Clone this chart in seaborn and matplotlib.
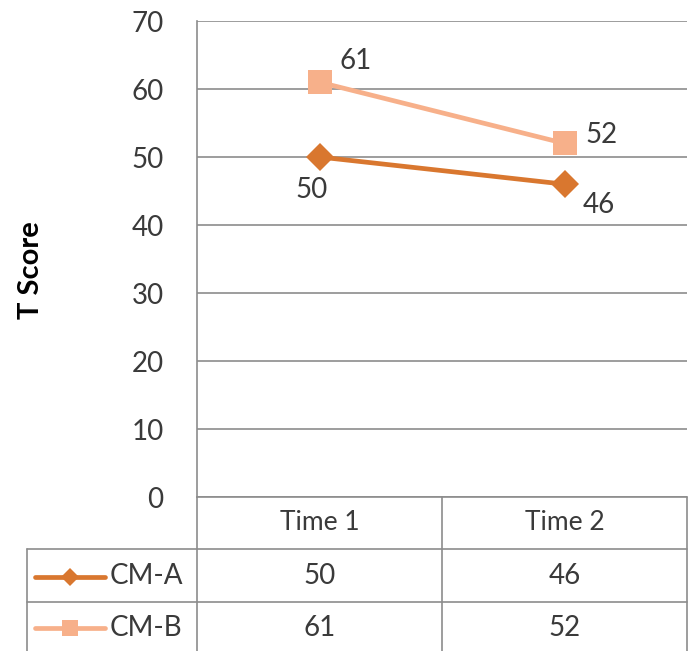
import matplotlib
matplotlib.use("Agg")
import matplotlib.pyplot as plt
import seaborn as sns
import pandas as pd

# Scores per measurement occasion
times = ["Time 1", "Time 2"]
series_names = ["CM-A", "CM-B"]
cm_a = [50, 46]
cm_b = [61, 52]
y_ticks = [0, 10, 20, 30, 40, 50, 60, 70]

colors = {"CM-A": "#D9772F", "CM-B": "#F7B08A"}
markers = {"CM-A": "D", "CM-B": "s"}
marker_sizes = {"CM-A": 14, "CM-B": 17.5}
# label offsets (points) for each series' value labels
label_offsets = {"CM-A": [(-6, -24), (25, -15)], "CM-B": [(26, 15), (27, 6)]}

df = pd.DataFrame({
    "time": times * 2,
    "score": cm_a + cm_b,
    "series": [series_names[0]] * len(times) + [series_names[1]] * len(times),
})

sns.set_style("white")
plt.rcParams["font.family"] = ["Lato", "DejaVu Sans"]

W, H = 695, 651
fig = plt.figure(figsize=(W / 100, H / 100), dpi=100)
left, right, top, bottom = 197, 687, 21, 497
ax = fig.add_axes([left / W, 1 - bottom / H, (right - left) / W, (bottom - top) / H])

grid_col = "#8C8C8C"
text_col = "#3A3A3A"
fs = 20

sns.lineplot(data=df, x="time", y="score", hue="series", style="series",
             palette=colors, markers=markers, dashes=False, linewidth=3.4,
             markeredgewidth=0, legend=False, ax=ax, zorder=3)
for line, name in zip(ax.get_lines(), series_names):
    line.set_markersize(marker_sizes[name])

ax.set_xlim(-0.5, 1.5)
ax.set_ylim(0, 70)
ax.set_yticks(y_ticks)
ax.set_yticklabels([str(v) for v in y_ticks], fontsize=fs, color=text_col)
ax.tick_params(axis="y", length=0, pad=24)
ax.set_xticks([])
ax.set_xlabel("")
ax.grid(axis="y", color=grid_col, linewidth=1.2)
for s in ["top", "right", "bottom"]:
    ax.spines[s].set_visible(False)
ax.spines["left"].set_color(grid_col)
ax.spines["left"].set_linewidth(1.2)
ax.set_ylabel("T Score", fontsize=21, fontweight="bold", color="#000000")
ax.yaxis.set_label_coords(-0.312, 0.477)

# value labels next to each point
for name, vals in zip(series_names, [cm_a, cm_b]):
    for i, v in enumerate(vals):
        dx, dy = label_offsets[name][i]
        ax.annotate(str(v), (i, v), xytext=(dx, dy), textcoords="offset points",
                    ha="center", va="center", fontsize=fs, color=text_col)

# data table beneath the plot
tr = ax.get_xaxis_transform()
px_per_unit = (right - left) / 2.0
px_h = bottom - top
def ay(py):
    return (bottom - py) / px_h
x_left_tab = -0.5 - (left - 27) / px_per_unit
rows_y = [497, 549, 602, 651]
lk = dict(color=grid_col, linewidth=1.2, clip_on=False, transform=tr)
# header row
ax.plot([-0.5, 1.5], [ay(rows_y[0])] * 2, **lk)
for xb in [-0.5, 0.5, 1.5]:
    ax.plot([xb, xb], [ay(rows_y[0]), ay(rows_y[3])], **lk)
for yb in rows_y[1:3]:
    ax.plot([x_left_tab, 1.5], [ay(yb)] * 2, **lk)
ax.plot([x_left_tab, x_left_tab], [ay(rows_y[1]), ay(rows_y[3])], **lk)

for i, t in enumerate(times):
    ax.text(i, ay((rows_y[0] + rows_y[1]) / 2), t, transform=tr, ha="center",
            va="center", fontsize=19, color=text_col, clip_on=False)

for r, (name, vals) in enumerate(zip(series_names, [cm_a, cm_b])):
    yc = ay((rows_y[r + 1] + rows_y[r + 2]) / 2 + 1)
    for i, v in enumerate(vals):
        ax.text(i, yc, str(v), transform=tr, ha="center", va="center",
                fontsize=fs, color=text_col, clip_on=False)
    # legend key
    kx0 = -0.5 - (197 - 35) / px_per_unit
    kx1 = -0.5 - (197 - 105) / px_per_unit
    ax.plot([kx0, kx1], [yc, yc], color=colors[name], linewidth=3.4,
            transform=tr, clip_on=False, solid_capstyle="round")
    ax.plot([(kx0 + kx1) / 2], [yc], marker=markers[name], color=colors[name],
            markersize=marker_sizes[name] * 0.62, markeredgewidth=0,
            transform=tr, clip_on=False)
    ax.text(-0.5 - (197 - 110) / px_per_unit, yc, name, transform=tr,
            ha="left", va="center", fontsize=fs, color=text_col, clip_on=False)

fig.savefig("out.png", dpi=100)
